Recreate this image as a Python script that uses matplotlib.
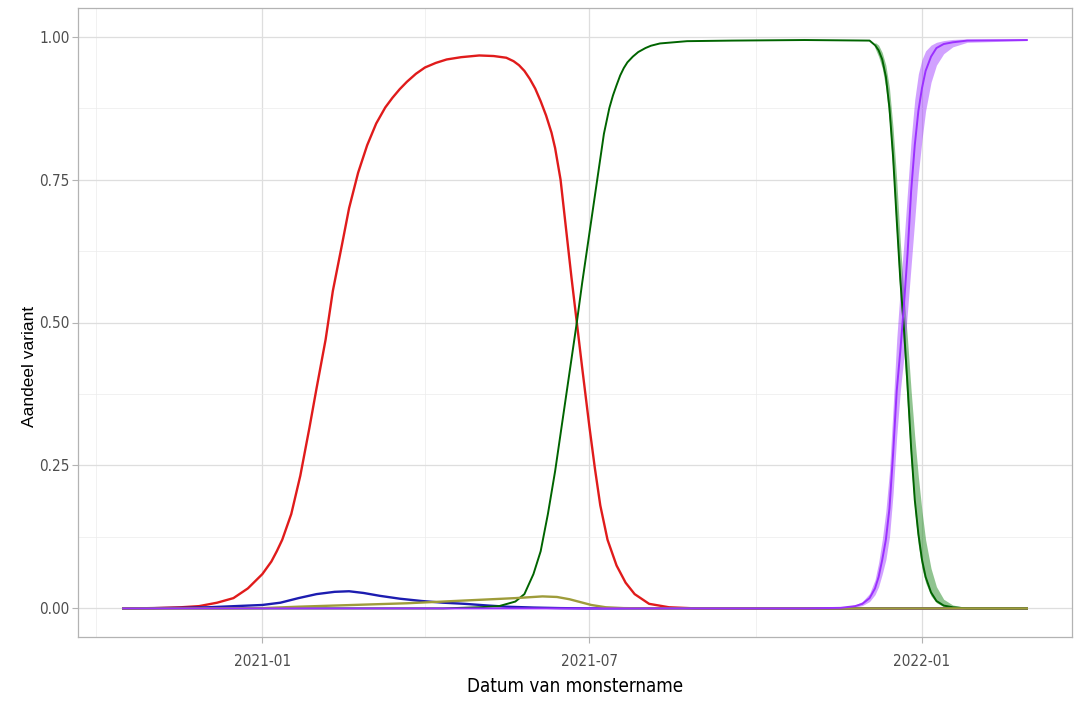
import matplotlib
matplotlib.use("Agg")
import matplotlib.pyplot as plt
import matplotlib.dates as mdates
import matplotlib.font_manager as fm
import pandas as pd
from matplotlib.ticker import MultipleLocator, FormatStrFormatter

# variant shares
end_date = "2022-02-28"

alpha_dates = ["2020-10-16", "2020-11-02", "2020-11-17", "2020-11-27", "2020-12-07", "2020-12-16",
               "2020-12-24", "2021-01-01", "2021-01-06", "2021-01-09", "2021-01-12", "2021-01-17",
               "2021-01-22", "2021-01-27", "2021-01-31", "2021-02-05", "2021-02-09", "2021-02-14",
               "2021-02-18", "2021-02-23", "2021-02-28", "2021-03-05", "2021-03-10", "2021-03-14",
               "2021-03-18", "2021-03-22", "2021-03-27", "2021-04-01", "2021-04-07", "2021-04-13",
               "2021-04-21", "2021-05-01", "2021-05-09", "2021-05-16", "2021-05-20", "2021-05-23",
               "2021-05-26", "2021-05-29", "2021-06-01", "2021-06-04", "2021-06-07", "2021-06-10",
               "2021-06-12", "2021-06-15", "2021-06-18", "2021-06-21", "2021-06-24", "2021-06-27",
               "2021-07-01", "2021-07-04", "2021-07-07", "2021-07-11", "2021-07-16", "2021-07-21",
               "2021-07-26", "2021-08-03", "2021-08-14", "2021-08-29", end_date]
alpha_share = [0.0, 0.0005, 0.002, 0.004, 0.01, 0.018,
               0.035, 0.06, 0.082, 0.1, 0.12, 0.165,
               0.232, 0.315, 0.385, 0.47, 0.555, 0.635,
               0.70, 0.762, 0.81, 0.848, 0.876, 0.893,
               0.908, 0.921, 0.935, 0.946, 0.954, 0.96,
               0.964, 0.967, 0.966, 0.963, 0.957, 0.95,
               0.94, 0.926, 0.909, 0.887, 0.862, 0.832,
               0.805, 0.75, 0.665, 0.58, 0.50, 0.42,
               0.317, 0.245, 0.18, 0.12, 0.075, 0.045,
               0.025, 0.008, 0.002, 0.0, 0.0]

beta_dates = ["2020-10-16", "2020-11-02", "2020-11-17", "2020-12-02", "2020-12-17", "2021-01-01",
              "2021-01-11", "2021-01-21", "2021-01-31", "2021-02-10", "2021-02-18", "2021-02-26",
              "2021-03-07", "2021-03-18", "2021-03-30", "2021-04-11", "2021-04-23", "2021-05-06",
              "2021-05-16", "2021-05-31", "2021-06-15", "2021-06-30", end_date]
beta_share = [0.0, 0.0005, 0.001, 0.002, 0.004, 0.006,
              0.01, 0.018, 0.025, 0.029, 0.030, 0.027,
              0.022, 0.017, 0.013, 0.01, 0.008, 0.005,
              0.003, 0.0015, 0.0005, 0.0, 0.0]

gamma_dates = ["2020-10-16", "2020-12-12", "2021-01-01", "2021-01-21", "2021-02-10", "2021-03-02",
               "2021-03-22", "2021-04-11", "2021-05-01", "2021-05-21", "2021-06-05", "2021-06-13",
               "2021-06-20", "2021-06-26", "2021-07-02", "2021-07-10", "2021-07-20", "2021-08-04",
               end_date]
gamma_share = [0.0, 0.0, 0.0005, 0.003, 0.005, 0.007,
               0.009, 0.012, 0.015, 0.018, 0.021, 0.02,
               0.016, 0.011, 0.006, 0.002, 0.0005, 0.0,
               0.0]

delta_dates = ["2020-10-16", "2021-04-11", "2021-05-01", "2021-05-12", "2021-05-21", "2021-05-26",
               "2021-05-31", "2021-06-04", "2021-06-08", "2021-06-12", "2021-06-15", "2021-06-18",
               "2021-06-21", "2021-06-24", "2021-06-27", "2021-06-30", "2021-07-03", "2021-07-06",
               "2021-07-09", "2021-07-12", "2021-07-14", "2021-07-16", "2021-07-18", "2021-07-20",
               "2021-07-22", "2021-07-25", "2021-07-28", "2021-08-01", "2021-08-04", "2021-08-09",
               "2021-08-24", "2021-09-18", "2021-10-28", "2021-12-03", "2021-12-06",
               "2021-12-08", "2021-12-10", "2021-12-12", "2021-12-14", "2021-12-16", "2021-12-18",
               "2021-12-20", "2021-12-22", "2021-12-24", "2021-12-26", "2021-12-28", "2021-12-30",
               "2022-01-01", "2022-01-03", "2022-01-06", "2022-01-09", "2022-01-13", "2022-01-18",
               "2022-01-26", end_date]
delta_share = [0.0, 0.0, 0.002, 0.004, 0.012, 0.025,
               0.06, 0.10, 0.165, 0.24, 0.305, 0.37,
               0.435, 0.50, 0.57, 0.635, 0.70, 0.765,
               0.83, 0.875, 0.897, 0.915, 0.932, 0.945,
               0.955, 0.965, 0.973, 0.98, 0.984, 0.988,
               0.992, 0.993, 0.994, 0.993, 0.985,
               0.976, 0.96, 0.93, 0.875, 0.79, 0.68,
               0.575, 0.49, 0.39, 0.28, 0.19, 0.13,
               0.085, 0.055, 0.028, 0.013, 0.005, 0.002,
               0.0, 0.0]

delta_ci_dates = ["2021-12-06", "2021-12-08", "2021-12-10", "2021-12-12", "2021-12-14", "2021-12-16",
                  "2021-12-18", "2021-12-20", "2021-12-22", "2021-12-24", "2021-12-26", "2021-12-28",
                  "2021-12-30", "2022-01-01", "2022-01-03", "2022-01-06", "2022-01-09", "2022-01-13",
                  "2022-01-18", "2022-01-26"]
delta_lo = [0.98, 0.965, 0.945, 0.91, 0.85, 0.76, 0.65, 0.54, 0.45, 0.35,
            0.25, 0.17, 0.11, 0.07, 0.045, 0.022, 0.01, 0.003, 0.001, 0.0]
delta_hi = [0.99, 0.985, 0.972, 0.95, 0.91, 0.84, 0.75, 0.64, 0.55, 0.47,
            0.38, 0.30, 0.23, 0.17, 0.12, 0.07, 0.038, 0.016, 0.006, 0.001]

omicron_dates = ["2020-10-16", "2021-10-28", "2021-11-17", "2021-11-25", "2021-11-29", "2021-12-03",
                 "2021-12-06", "2021-12-08", "2021-12-10", "2021-12-12", "2021-12-14", "2021-12-16",
                 "2021-12-18", "2021-12-20", "2021-12-22", "2021-12-24", "2021-12-26", "2021-12-28",
                 "2021-12-30", "2022-01-01", "2022-01-03", "2022-01-06", "2022-01-09", "2022-01-13",
                 "2022-01-18", "2022-01-26", end_date]
omicron_share = [0.0, 0.0, 0.001, 0.004, 0.008, 0.018,
                 0.035, 0.055, 0.085, 0.12, 0.175, 0.27,
                 0.38, 0.45, 0.53, 0.62, 0.73, 0.81,
                 0.87, 0.91, 0.94, 0.965, 0.98, 0.987,
                 0.99, 0.993, 0.994]
omicron_lo = [0.0, 0.0, 0.0, 0.002, 0.005, 0.012,
              0.024, 0.038, 0.06, 0.085, 0.125, 0.2,
              0.3, 0.38, 0.44, 0.52, 0.6, 0.68,
              0.76, 0.82, 0.87, 0.92, 0.95, 0.97,
              0.982, 0.99, 0.993]
omicron_hi = [0.0, 0.0, 0.002, 0.006, 0.012, 0.026,
              0.05, 0.08, 0.12, 0.17, 0.24, 0.35,
              0.47, 0.56, 0.64, 0.73, 0.82, 0.89,
              0.935, 0.96, 0.975, 0.985, 0.99, 0.993,
              0.995, 0.996, 0.995]

# narrow font for ticks / x title, if one is installed
narrow = None
for f in fm.fontManager.ttflist:
    low = f.fname.lower()
    if "bold" in low or "italic" in low or "oblique" in low:
        continue
    if "Narrow" in f.name or "Condensed" in f.name or f.stretch in ("condensed", "semi-condensed"):
        narrow = fm.FontProperties(fname=f.fname)
        break

plt.rcParams['font.family'] = ['Liberation Sans', 'DejaVu Sans']

fig = plt.figure(figsize=(10.81, 7.05), dpi=100)
ax = fig.add_axes([78 / 1081, 1 - 637 / 705, 994 / 1081, 629 / 705])

d = pd.to_datetime
ax.fill_between(d(delta_ci_dates), delta_lo, delta_hi, color="forestgreen", alpha=0.5, lw=0)
ax.fill_between(d(omicron_dates), omicron_lo, omicron_hi, color="#9B30FF", alpha=0.45, lw=0)

ax.plot(d(alpha_dates), alpha_share, color="#e01b1b", lw=1.7)
ax.plot(d(beta_dates), beta_share, color="#1c1cb0", lw=1.7)
ax.plot(d(delta_dates), delta_share, color="darkgreen", lw=1.4)
ax.plot(d(gamma_dates), gamma_share, color="#9e9c3a", lw=1.7)
ax.plot(d(omicron_dates), omicron_share, color="#9B30FF", lw=1.4)

ax.set_xlim(d("2020-09-21"), d("2022-03-25"))
ax.set_ylim(-0.05, 1.05)

ax.xaxis.set_major_locator(mdates.MonthLocator(bymonth=[1, 7]))
ax.xaxis.set_minor_locator(mdates.MonthLocator(bymonth=[4, 10]))
ax.xaxis.set_major_formatter(mdates.DateFormatter("%Y-%m"))
ax.yaxis.set_major_locator(MultipleLocator(0.25))
ax.yaxis.set_minor_locator(MultipleLocator(0.125))
ax.yaxis.set_major_formatter(FormatStrFormatter("%.2f"))

ax.grid(which="major", color="#dedede", lw=0.9)
ax.grid(which="minor", color="#ececec", lw=0.5)
ax.set_axisbelow(True)
for s in ax.spines.values():
    s.set_color("#b3b3b3")
    s.set_linewidth(0.9)

ax.tick_params(which="major", length=4, width=0.8, color="#b3b3b3", labelcolor="#4d4d4d", pad=2)
ax.tick_params(which="minor", length=0)
ax.tick_params(axis="x", pad=8)

tick_size = 11 if narrow is not None else 10
for lab in ax.get_xticklabels() + ax.get_yticklabels():
    if narrow is not None:
        lab.set_fontproperties(narrow)
    lab.set_fontsize(tick_size)

if narrow is not None:
    ax.set_xlabel("Datum van monstername", fontproperties=narrow, fontsize=13.5, color="black")
else:
    ax.set_xlabel("Datum van monstername", fontsize=12, color="black")
ax.set_ylabel("Aandeel variant", fontsize=12.5, color="black")
ax.xaxis.set_label_coords(0.5, -0.064)
ax.yaxis.set_label_coords(-0.041, 0.43)

fig.savefig("out.png", dpi=100)
